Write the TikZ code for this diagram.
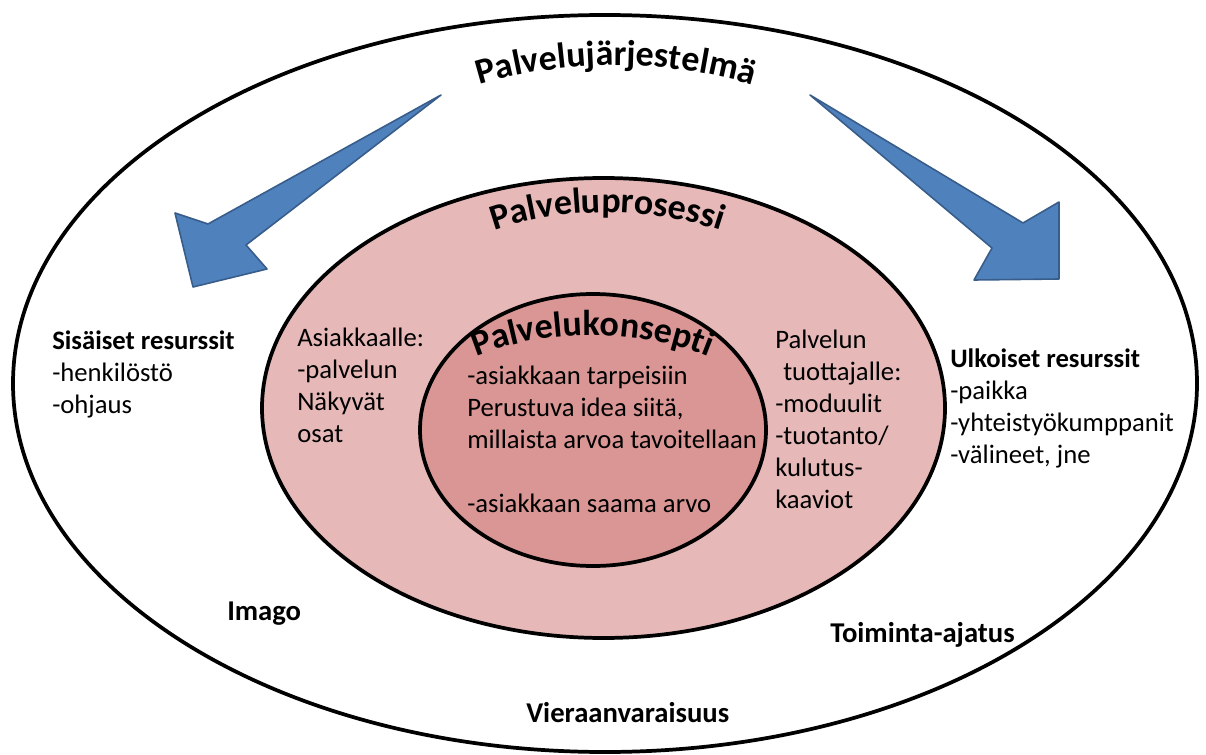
\documentclass[tikz,border=0pt]{standalone}
\usepackage{fontspec}
\setmainfont{Carlito}
\usetikzlibrary{shapes.geometric,decorations.text}
\definecolor{arrowblue}{HTML}{4F81BD}
\definecolor{arrowedge}{HTML}{385D8A}
\definecolor{prosessipink}{HTML}{E6B9B8}
\definecolor{konseptipink}{HTML}{D99694}
\newcommand{\bodyfont}{\fontsize{20}{24}\selectfont}
\newcommand{\titlefont}{\fontsize{27}{30}\selectfont\bfseries}

\begin{document}
\begin{tikzpicture}[x=0.75pt, y=-0.75pt,
    ring/.style={ellipse, draw=black, line width=2.8pt, inner sep=0pt, outer sep=0pt},
    lbl/.style={anchor=base west, align=left, inner sep=0pt, font=\bodyfont},
    boldlbl/.style={lbl, font=\fontsize{21.5}{24}\selectfont\bfseries},
    bigarrow/.style={fill=arrowblue, draw=arrowedge, line width=1.2pt, line join=round}]
    \useasboundingbox (0,0) rectangle (1206,755);
    \node[ring, minimum width=888pt, minimum height=552.75pt] (jarjestelma) at (605,383.5) {};
    \node[ring, fill=prosessipink, minimum width=512.25pt, minimum height=345pt] (prosessi) at (603.5,408) {};
    \node[ring, fill=konseptipink, minimum width=259.5pt, minimum height=204pt] (konsepti) at (593,430) {};
    % the two blue arrows
    \draw[bigarrow] (441,95) -- (208,224) -- (175,213) -- (193,287) -- (267,269) -- (246,245) -- cycle;
    \draw[bigarrow] (810,95) -- (1023,223) -- (1059,202) -- (1059,279) -- (974,280) -- (992,248) -- cycle;
    % curved titles
    \path[decorate, decoration={text along path, text align=center,
        text={|\titlefont|Palvelujärjestelmä}}] (470,88) .. controls (560,58) and (670,58) .. (762,88);
    \path[decorate, decoration={text along path, text align=center,
        text={|\titlefont|Palveluprosessi}}] (490,232) .. controls (560,206) and (650,206) .. (725,232);
    \path[decorate, decoration={text along path, text align=center,
        text={|\titlefont|Palvelukonsepti}}] (475,357) .. controls (545,328) and (640,328) .. (710,357);
    % texts (anchored at the baseline of their last line)
    \node[lbl] (sisaiset) at (52,413) {\textbf{Sisäiset resurssit}\\-henkilöstö\\-ohjaus};
    \node[lbl] (asiakkaalle) at (297,442) {Asiakkaalle:\\-palvelun\\Näkyvät\\osat};
    \node[lbl] (idea) at (467,512) {-asiakkaan tarpeisiin\\Perustuva idea siitä,\\millaista arvoa tavoitellaan\\[24pt]-asiakkaan saama arvo};
    \node[lbl] (tuottajalle) at (775,508) {Palvelun\\\hspace{0.3em}tuottajalle:\\-moduulit\\-tuotanto/\\kulutus-\\kaaviot};
    \node[lbl] (ulkoiset) at (950,463) {\textbf{Ulkoiset resurssit}\\-paikka\\-yhteistyökumppanit\\-välineet, jne};
    \node[boldlbl] (imago) at (227,620) {Imago};
    \node[boldlbl] (toiminta) at (830,642) {Toiminta-ajatus};
    \node[boldlbl] (vieraan) at (526,722) {Vieraanvaraisuus};
\end{tikzpicture}
\end{document}
